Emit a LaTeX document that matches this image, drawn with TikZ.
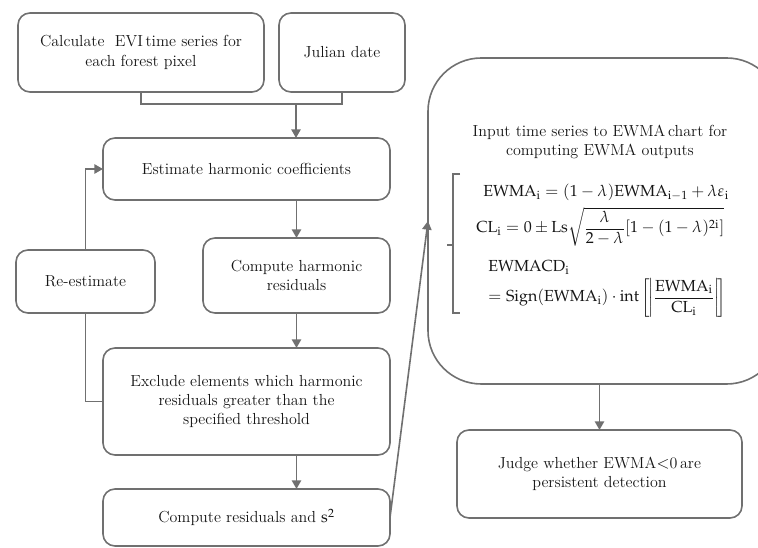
\documentclass[tikz,border=0pt]{standalone}
\usepackage{mathpazo}
\usepackage{amsmath}
\usetikzlibrary{arrows.meta,calc}

\definecolor{linegray}{RGB}{112,112,112}
\definecolor{inkgray}{RGB}{22,22,22}

\begin{document}
\begin{tikzpicture}[x=0.75pt,y=-0.75pt,
  every node/.style={text=inkgray, font=\fontsize{12}{14.4}\selectfont},
  box/.style={draw=linegray, line width=1.2pt, rounded corners=9pt,
    inner sep=0pt, outer sep=0pt, align=center},
  bigbox/.style={box, rounded corners=40pt},
  conn/.style={draw=linegray, line width=1.2pt},
  arr/.style={conn, -{Triangle[length=6.5pt,width=7pt]}},
]
\useasboundingbox (0,0) rectangle (758,548);
\clip (0,0) rectangle (758,548);

% left column
\node[box, minimum width=184.5pt, minimum height=59.25pt] (evi) at (141,52.5)
  {Calculate\ \ EVI\,time series for\\ each forest pixel};
\node[box, minimum width=94.5pt, minimum height=59.25pt] (jul) at (342,52.5)
  {Julian date};
\node[box, minimum width=215.25pt, minimum height=46.5pt] (coef) at (246.5,169)
  {Estimate harmonic coefficients};
\node[box, minimum width=140.25pt, minimum height=56.25pt] (res) at (296.5,275.5)
  {Compute harmonic\\ residuals};
\node[box, minimum width=104.25pt, minimum height=47.25pt] (reest) at (85.5,281.5)
  {Re-estimate};
\node[box, minimum width=215.25pt, minimum height=80.25pt] (excl) at (246.5,401.5)
  {Exclude elements which harmonic\\ residuals\ greater than the\\ specified threshold};
\node[box, minimum width=215.25pt, minimum height=42.75pt] (rs) at (246.5,517.5)
  {Compute residuals and $\mathrm{s}^2$};

% EWMA chart
\node[bigbox, minimum width=264pt, minimum height=244.5pt] (ewma) at (604,221) {};
\node[box, minimum width=213.75pt, minimum height=66pt] (judge) at (599.5,474)
  {Judge whether EWMA$<$0\,are\\ persistent detection};

\node[align=center, inner sep=0pt] (title) at (600,142)
  {Input time series to EWMA\,chart for\\ computing\ EWMA outputs};

% the four formula lines, one block with fixed baseline spacing
\node[anchor=base west, inner sep=0pt] (eqs) at (476,197)
  {$\begin{array}[t]{@{}l@{}}
    \hspace{5.25pt}\smash{\mathrm{EWMA}_{\mathrm{i}} = (1-\lambda)\mathrm{EWMA}_{\mathrm{i}-1} + \lambda\varepsilon_{\mathrm{i}}}\\[12.6pt]
    \smash{\mathrm{CL}_{\mathrm{i}} = 0 \pm \mathrm{Ls}\sqrt{\dfrac{\lambda}{2-\lambda}[1-(1-\lambda)^{2\mathrm{i}}]}}\\[14.85pt]
    \hspace{9pt}\smash{\mathrm{EWMACD}_{\mathrm{i}}}\\[8.1pt]
    \hspace{9pt}\smash{= \mathrm{Sign}(\mathrm{EWMA}_{\mathrm{i}})\cdot\mathrm{int}\left[\!\left|\dfrac{\mathrm{EWMA}_{\mathrm{i}}}{\mathrm{CL}_{\mathrm{i}}}\right|\!\right]}
  \end{array}$};

% bracket grouping the formulas
\coordinate (brtop) at (460,174);
\coordinate (brbot) at (460,313);
\coordinate (brmid) at (453,245);
\draw[conn, line width=1pt] (brtop) -- (brtop -| brmid) -- (brbot -| brmid) -- (brbot);
\draw[conn, line width=1pt] (brmid) -- ++(-6,0);

% connectors
\coordinate (join) at (296,104);
\draw[conn] (evi.south) -- (evi.south |- join) -| (jul.south);
\draw[arr] (join) -- (join |- coef.north);
\draw[arr] (res.north |- coef.south) -- (res.north);
\draw[arr] (res.south) -- (res.south |- excl.north);
\draw[arr] (res.south |- excl.south) -- (res.south |- rs.north);
\draw[conn] (excl.west) -- (excl.west -| reest.south) -- (reest.south);
\draw[arr] (reest.north) -- (reest.north |- coef.west) -- (coef.west);
\draw[arr] (rs.east) -- (ewma.west);
\draw[arr] (judge.north |- ewma.south) -- (judge.north);
\end{tikzpicture}
\end{document}
